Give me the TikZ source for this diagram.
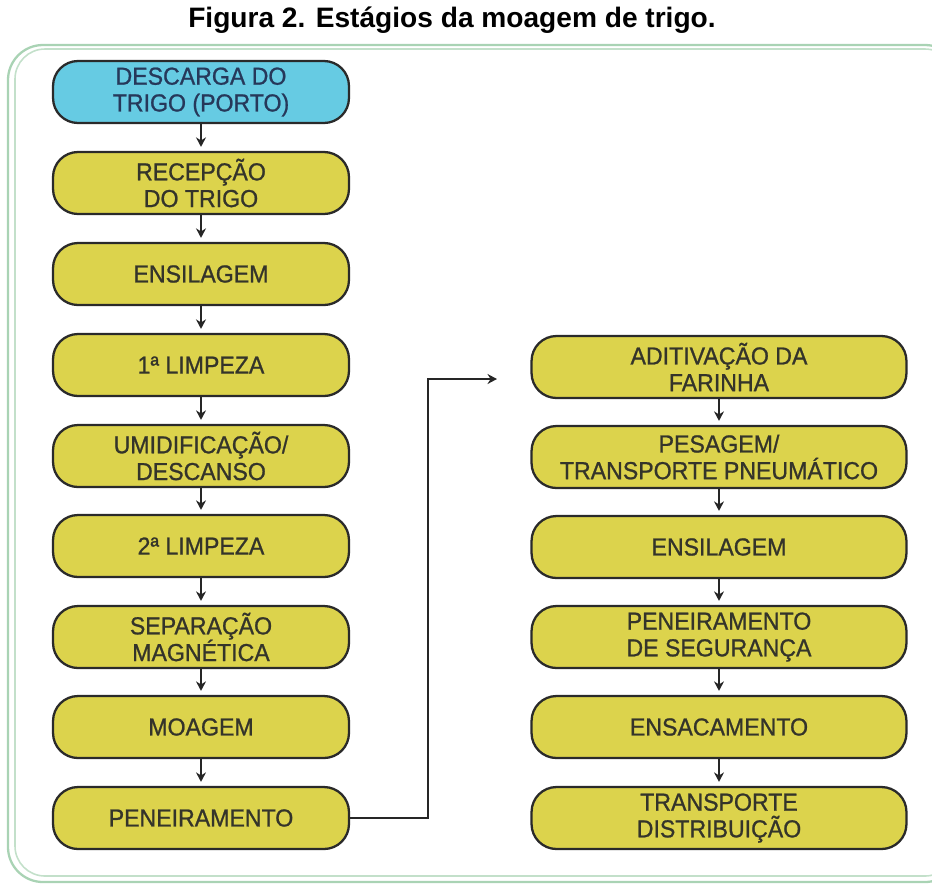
\documentclass[tikz,border=0pt]{standalone}
\usepackage{fontspec}
\setmainfont{Liberation Sans}
\newfontfamily\stagefont[FakeStretch=0.94, FakeBold=0.9]{Liberation Sans}
\usetikzlibrary{arrows.meta, positioning}
\definecolor{StageYellow}{HTML}{DCD34C}
\definecolor{StageBlue}{HTML}{66CBE3}
\definecolor{StageEdge}{HTML}{2A2A2A}
\definecolor{StageText}{HTML}{34342A}
\definecolor{StageNavy}{HTML}{26385A}
\definecolor{FrameGreen}{HTML}{A9D3B4}
\tikzset{
    % Box styles - rounded corners
    stage/.style={
        rectangle,
        rounded corners=0.5cm,
        draw=StageEdge,
        fill=StageYellow,
        line width=1.3pt,
        minimum width=5.92cm,
        minimum height=1.24cm,
        align=center,
        text=StageText,
        font=\stagefont\fontsize{14}{15.2}\selectfont
    },
    startstage/.style={
        stage,
        fill=StageBlue,
        text=StageNavy
    },
    widestage/.style={
        stage,
        minimum width=7.5cm
    },
    % Arrow style
    arrow/.style={
        -{Stealth[length=1.9mm, width=2mm]},
        line width=0.9pt,
        draw=black!85,
        shorten >=0.08cm
    }
}
\begin{document}
\begin{tikzpicture}[x=0.02cm, y=-0.02cm]
    \useasboundingbox (0,0) rectangle (932,887);
    % frame
    \draw[FrameGreen, line width=1.3pt, rounded corners=0.7cm] (8,45) rectangle (960,882);
    \draw[FrameGreen!70, line width=0.9pt, rounded corners=0.6cm] (15,49) rectangle (955,876);
    \node[font=\fontsize{16}{18}\selectfont\bfseries] (title) at (452,20) {Figura 2. Estágios da moagem de trigo.};

    % left column
    \node[startstage] (descarga) at (201,92) {DESCARGA DO\\TRIGO (PORTO)};
    \node[stage] (recepcao) at (201,183) {RECEPÇÃO\\DO TRIGO};
    \node[stage] (ensilL) at (201,274) {ENSILAGEM};
    \node[stage] (limpA) at (201,365) {1ª LIMPEZA};
    \node[stage] (umid) at (201,456) {UMIDIFICAÇÃO/\\DESCANSO};
    \node[stage] (limpB) at (201,546) {2ª LIMPEZA};
    \node[stage] (separa) at (201,637) {SEPARAÇÃO\\MAGNÉTICA};
    \node[stage] (moagem) at (201,727) {MOAGEM};
    \node[stage] (peneira) at (201,818) {PENEIRAMENTO};

    % right column
    \node[widestage] (aditiva) at (719,367) {ADITIVAÇÃO DA\\FARINHA};
    \node[widestage] (pesagem) at (719,457) {PESAGEM/\\TRANSPORTE PNEUMÁTICO};
    \node[widestage] (ensilR) at (719,547) {ENSILAGEM};
    \node[widestage] (penseg) at (719,637) {PENEIRAMENTO\\DE SEGURANÇA};
    \node[widestage] (ensaca) at (719,727) {ENSACAMENTO};
    \node[widestage] (transp) at (719,818) {TRANSPORTE\\DISTRIBUIÇÃO};

    \coordinate (aditivain) at (497,379);

    \foreach \a/\b in {descarga/recepcao, recepcao/ensilL, ensilL/limpA, limpA/umid,
        umid/limpB, limpB/separa, separa/moagem, moagem/peneira,
        aditiva/pesagem, pesagem/ensilR, ensilR/penseg, penseg/ensaca, ensaca/transp}
        \draw[arrow] (\a.south) -- (\b.north);

    \draw[arrow, shorten >=0pt] (peneira.east) -- ++(78,0) |- (aditivain);
\end{tikzpicture}
\end{document}
